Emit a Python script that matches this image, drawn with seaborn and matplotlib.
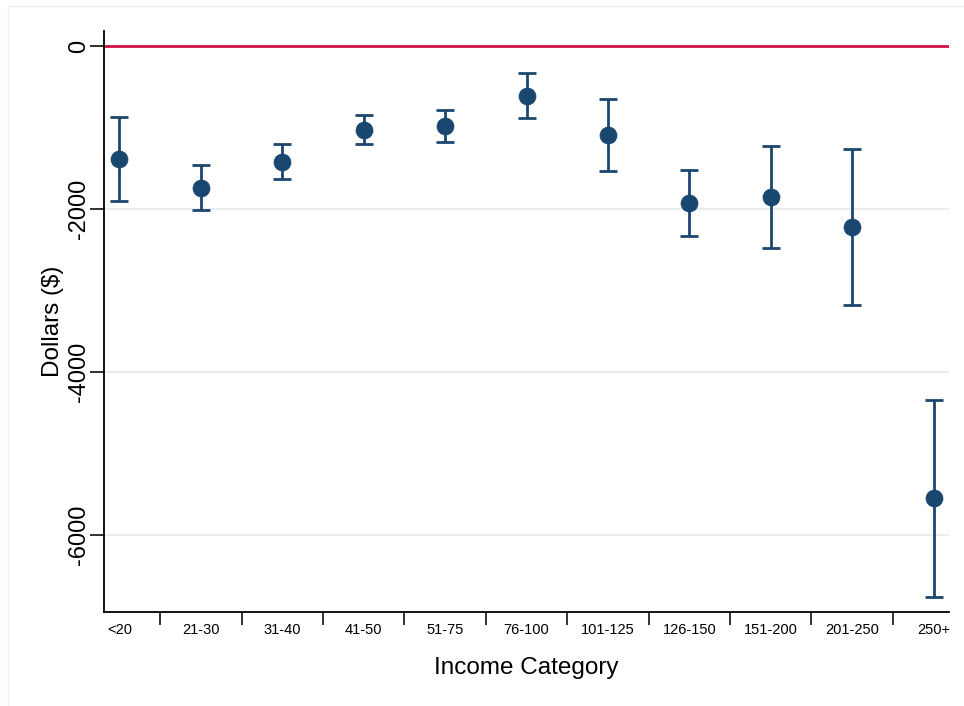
import numpy as np
import pandas as pd
import matplotlib
matplotlib.use("Agg")
import matplotlib.pyplot as plt
from matplotlib.patches import Rectangle
import seaborn as sns

# Income categories (thousands of dollars)
categories = ["<20", "21-30", "31-40", "41-50", "51-75", "76-100",
              "101-125", "126-150", "151-200", "201-250", "250+"]
# Point estimates and 95% confidence bounds, in dollars
estimate = [-1387, -1738, -1419, -1031, -978, -610,
            -1088, -1922, -1849, -2221, -5550]
ci_upper = [-871, -1456, -1206, -850, -785, -331,
            -650, -1518, -1223, -1264, -4348]
ci_lower = [-1898, -2016, -1632, -1206, -1174, -880,
            -1530, -2335, -2475, -3178, -6761]
y_ticks = [0, -2000, -4000, -6000]

df = pd.DataFrame({
    "category": categories,
    "pos": np.arange(len(categories)),
    "estimate": estimate,
    "lower": ci_lower,
    "upper": ci_upper,
})

sns.set_theme(style="white")
plt.rcParams["font.family"] = ["Liberation Sans", "DejaVu Sans"]
plt.rcParams["text.color"] = "black"
plt.rcParams["axes.labelcolor"] = "black"
plt.rcParams["xtick.color"] = "black"
plt.rcParams["ytick.color"] = "black"

navy = "#1a476f"
red = "#cc1443"
grid_col = "#e6eef0"

fig = plt.figure(figsize=(9.64, 7.06), dpi=100)
fig.patch.set_facecolor("white")
# faint graph-region frame
fig.add_artist(Rectangle((8 / 964, -0.01), 1.0, (706 - 6) / 706 + 0.01,
                         transform=fig.transFigure, fill=False,
                         edgecolor="#f0f0f0", linewidth=1.0))

ax = fig.add_axes([104 / 964, (706 - 612.3) / 706,
                   (949 - 104) / 964, (612.3 - 31) / 706])

# horizontal grid lines
for t in y_ticks[1:]:
    ax.axhline(t, color=grid_col, linewidth=1.6, zorder=0)
# reference line at zero
ax.axhline(0, color=red, linewidth=2.0, zorder=1)

# confidence intervals with caps
ax.errorbar(df["pos"], df["estimate"],
            yerr=[df["estimate"] - df["lower"], df["upper"] - df["estimate"]],
            fmt="none", ecolor=navy, elinewidth=2.0, capsize=6.5,
            capthick=2.0, zorder=2)
sns.scatterplot(data=df, x="pos", y="estimate", ax=ax, color=navy,
                s=150, edgecolor=navy, linewidth=0.5, zorder=3, legend=False)

ax.set_xlim(-0.19, 10.19)
ax.set_ylim(-6950, 185)

ax.set_xticks(df["pos"])
ax.set_xticklabels(categories, fontsize=10.5)
ax.set_xticks(np.arange(len(categories) - 1) + 0.5, minor=True)
ax.tick_params(axis="x", which="major", length=0, pad=8, colors="black")
ax.tick_params(axis="x", which="minor", length=9, width=1.3,
               direction="out", color="#222222", bottom=True)

ax.set_yticks(y_ticks)
ax.set_yticklabels([str(t) for t in y_ticks], fontsize=17, rotation=90,
                   va="center")
ax.tick_params(axis="y", which="major", length=10, width=1.3,
               direction="out", color="#222222", left=True, pad=0,
               labelcolor="black")

ax.set_xlabel("Income Category", fontsize=17.5, labelpad=14, color="black")
ax.set_ylabel("Dollars ($)", fontsize=17.5, labelpad=3, color="black")

for side in ["top", "right"]:
    ax.spines[side].set_visible(False)
for side in ["left", "bottom"]:
    ax.spines[side].set_color("black")
    ax.spines[side].set_linewidth(1.3)

fig.savefig("out.png", dpi=100)
